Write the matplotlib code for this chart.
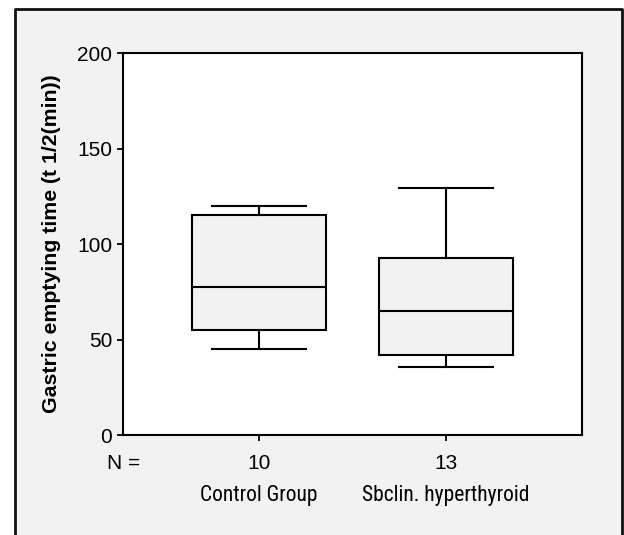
import matplotlib.pyplot as plt
from matplotlib.patches import Rectangle
from matplotlib.lines import Line2D

# Box plot summary (minutes)
groups = ["Control Group", "Sbclin. hyperthyroid"]
n_counts = ["10", "13"]
whisker_low = [45.0, 35.5]
q1 = [55.0, 42.0]
medians = [77.5, 65.0]
q3 = [115.5, 92.5]
whisker_high = [120.0, 129.5]
y_ticks = [0, 50, 100, 150, 200]

grey = "#f2f2f2"
num_font = "Liberation Sans"
cat_font = ["Roboto Condensed", "Liberation Sans"]

fig = plt.figure(figsize=(6.24, 5.35), dpi=100, facecolor="white")

# grey panel with a frame open at the bottom
x0, x1, ytop = 15 / 624, 621.5 / 624, 1 - 9 / 535
fig.add_artist(Rectangle((x0, 0), x1 - x0, ytop, transform=fig.transFigure,
                         facecolor=grey, edgecolor="none", zorder=-5))
fig.add_artist(Line2D([x0, x0, x1, x1], [0, ytop, ytop, 0],
                      transform=fig.transFigure, color="#111111", lw=2.0))

ax = fig.add_axes([0.1976, 0.1869, 0.7346, 0.7135])
ax.set_facecolor("white")

stats = []
for i in range(len(groups)):
    stats.append({"med": medians[i], "q1": q1[i], "q3": q3[i],
                  "whislo": whisker_low[i], "whishi": whisker_high[i],
                  "fliers": []})

positions = [1, 2]
ax.bxp(stats, positions=positions, widths=0.716, capwidths=0.505,
       patch_artist=True, showfliers=False,
       boxprops=dict(facecolor=grey, edgecolor="black", linewidth=1.5),
       medianprops=dict(color="black", linewidth=1.5),
       whiskerprops=dict(color="black", linewidth=1.5),
       capprops=dict(color="black", linewidth=1.5))

xmin, xmax = 0.274, 2.724
ax.set_xlim(xmin, xmax)
ax.set_ylim(0, 200)

for s in ax.spines.values():
    s.set_linewidth(1.5)

ax.set_yticks(y_ticks)
ax.set_yticklabels([str(v) for v in y_ticks], fontfamily=num_font, fontsize=15)
ax.tick_params(axis="y", direction="out", length=4, width=1.3, pad=4, color="black")

ax.set_xticks([xmin] + positions)
ax.set_xticklabels(["N ="] + n_counts, fontfamily=num_font, fontsize=15)
ax.tick_params(axis="x", direction="out", length=4, width=1.3, pad=9.5)
ax.get_xticklines()[0].set_visible(False)

for p, name in zip(positions, groups):
    ax.text(p, -0.173, name, transform=ax.get_xaxis_transform(),
            ha="center", va="baseline", fontfamily=cat_font, fontsize=15.5)

ax.set_ylabel("Gastric emptying time (t 1/2(min))", fontfamily="Liberation Sans",
              fontweight="bold", fontsize=15.3)
ax.yaxis.set_label_coords(-0.136, 0.5)

fig.savefig("out.png", dpi=100, facecolor=fig.get_facecolor())
